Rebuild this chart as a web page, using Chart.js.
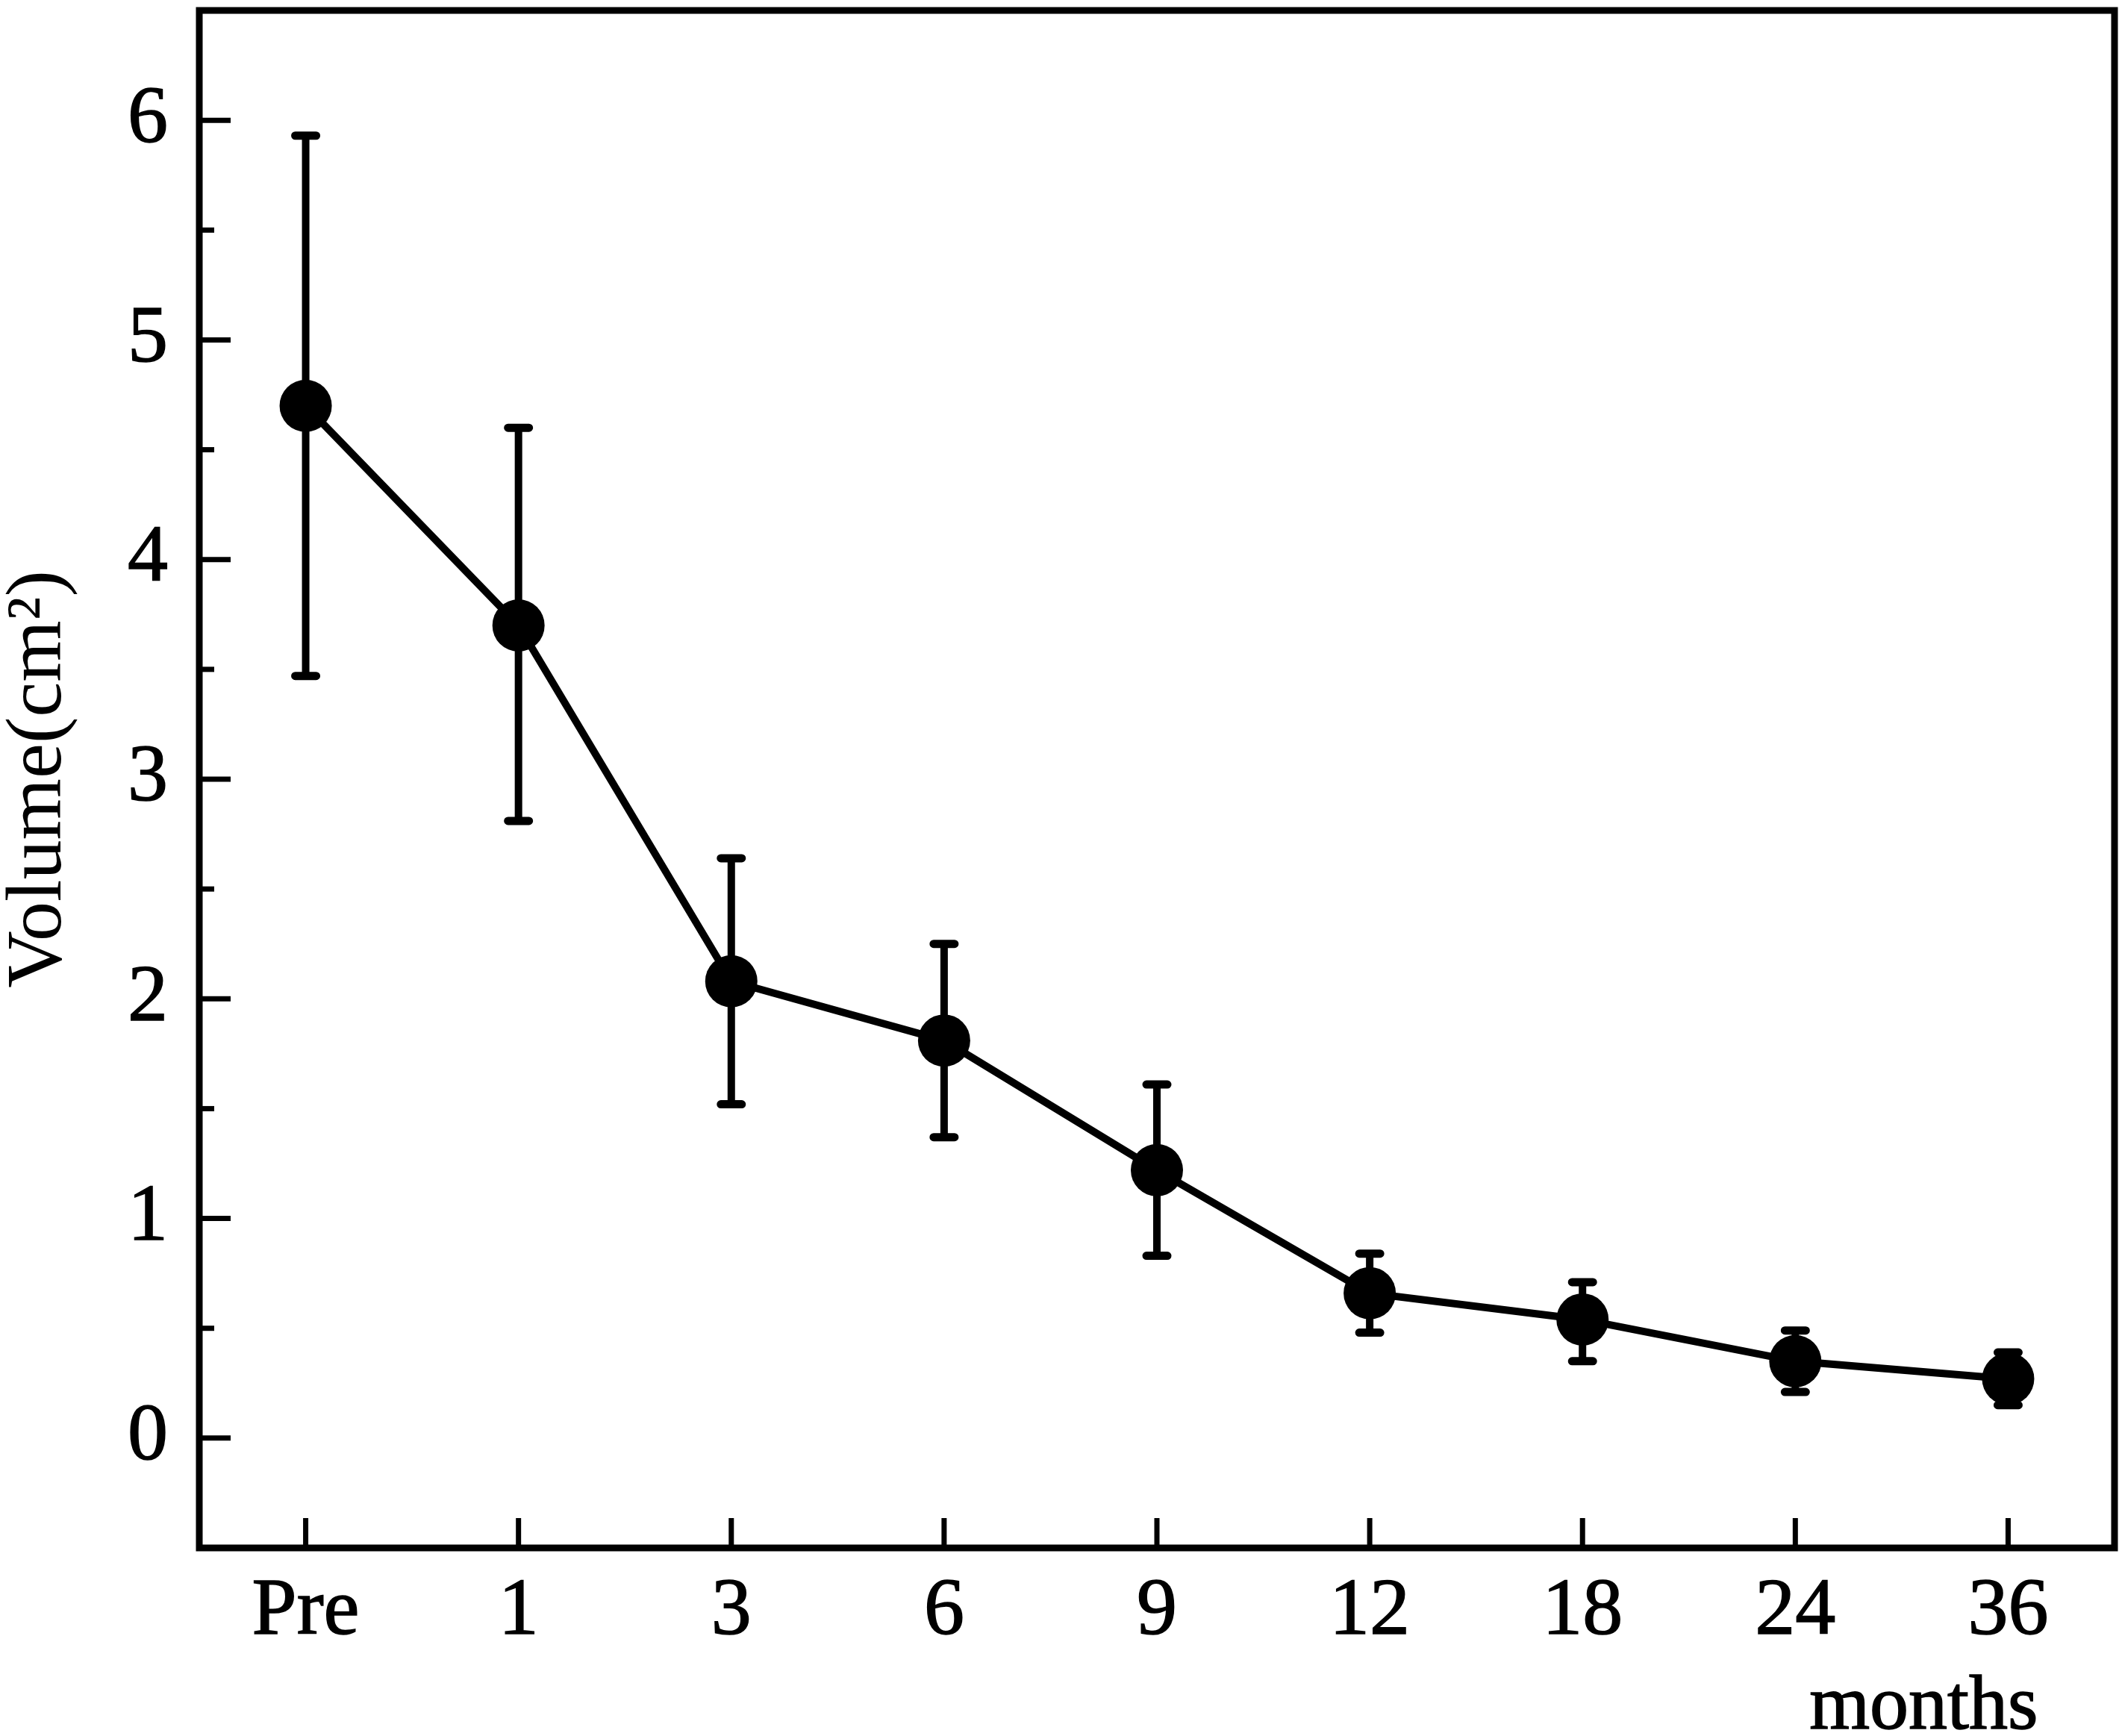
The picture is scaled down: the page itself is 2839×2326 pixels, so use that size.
<!DOCTYPE html>
<html>
<head>
<meta charset="utf-8">
<script src="https://cdn.jsdelivr.net/npm/chart.js@4.4.1/dist/chart.umd.min.js"></script>
<style>
  html, body { margin: 0; padding: 0; background: #fff; }
  #wrap { width: 2839px; height: 2326px; }
</style>
</head>
<body>
<div id="wrap"><canvas id="volChart" width="2839" height="2326"></canvas></div>
<script>
// 데이터
var monthLabels = ['Pre', '1', '3', '6', '9', '12', '18', '24', '36'];
var volMean  = [4.70, 3.70, 2.08, 1.81, 1.22, 0.66, 0.54, 0.35, 0.27];
var volUpper = [5.93, 4.60, 2.64, 2.25, 1.61, 0.84, 0.71, 0.49, 0.39];
var volLower = [3.47, 2.81, 1.52, 1.37, 0.83, 0.48, 0.35, 0.21, 0.15];
var yTickValues = [0, 1, 2, 3, 4, 5, 6];

var serif = "'Liberation Serif', 'Times New Roman', serif";
var INK = '#000';

/**
 * 에러바 (평균선 뒤에 그림)
 */
var errorBarPlugin = {
    id: 'errorBars',
    beforeDatasetsDraw: function(chart) {
        var ctx = chart.ctx;
        var xs = chart.scales.x, ys = chart.scales.y;
        ctx.save();
        ctx.strokeStyle = INK;
        for (var i = 0; i < volMean.length; i++) {
            var px = xs.getPixelForValue(i);
            var top = ys.getPixelForValue(volUpper[i]);
            var bot = ys.getPixelForValue(volLower[i]);
            ctx.lineWidth = 10;
            ctx.lineCap = 'butt';
            ctx.beginPath();
            ctx.moveTo(px, top);
            ctx.lineTo(px, bot);
            ctx.stroke();
            // cap
            ctx.lineWidth = 11;
            ctx.lineCap = 'round';
            ctx.beginPath();
            ctx.moveTo(px - 14, top); ctx.lineTo(px + 14, top);
            ctx.moveTo(px - 14, bot); ctx.lineTo(px + 14, bot);
            ctx.stroke();
        }
        ctx.restore();
    }
};

/**
 * 외곽 박스 + 안쪽 눈금 + months
 */
var frameTickPlugin = {
    id: 'frameTicks',
    afterDraw: function(chart) {
        var ctx = chart.ctx;
        var a = chart.chartArea;
        var xs = chart.scales.x, ys = chart.scales.y;
        ctx.save();
        ctx.strokeStyle = INK;
        ctx.fillStyle = INK;

        // y 눈금 (안쪽)
        ctx.lineWidth = 7;
        ys.ticks.forEach(function(t) {
            var v = t.value;
            if (v <= ys.min || v >= ys.max) return;
            var len = (Math.abs(v - Math.round(v)) < 1e-6) ? 42 : 20;
            var py = ys.getPixelForValue(v);
            ctx.beginPath();
            ctx.moveTo(a.left, py);
            ctx.lineTo(a.left + len, py);
            ctx.stroke();
        });

        // x 눈금 (안쪽)
        for (var i = 0; i < monthLabels.length; i++) {
            var px = xs.getPixelForValue(i);
            ctx.beginPath();
            ctx.moveTo(px, a.bottom);
            ctx.lineTo(px, a.bottom - 40);
            ctx.stroke();
        }

        // 박스
        ctx.lineWidth = 9;
        ctx.strokeRect(a.left, a.top, a.right - a.left, a.bottom - a.top);

        // months
        ctx.font = '104px ' + serif;
        ctx.textAlign = 'right';
        ctx.textBaseline = 'alphabetic';
        ctx.lineWidth = 1.5;
        ctx.fillText('months', xs.getPixelForValue(monthLabels.length - 1) + 40, 2316);
        ctx.strokeText('months', xs.getPixelForValue(monthLabels.length - 1) + 40, 2316);
        ctx.restore();
    }
};

window.addEventListener('DOMContentLoaded', function() {
    console.log('volume chart');
    var ctx = document.getElementById('volChart').getContext('2d');

    new Chart(ctx, {
        type: 'line',
        data: {
            labels: monthLabels,
            datasets: [{
                data: volMean,
                borderColor: INK,
                borderWidth: 10,
                backgroundColor: INK,
                pointRadius: 35,
                pointHoverRadius: 35,
                pointBackgroundColor: INK,
                pointBorderWidth: 0,
                tension: 0,
                clip: false
            }]
        },
        options: {
            responsive: false,
            animation: false,
            devicePixelRatio: 1,
            layout: { autoPadding: false, padding: { left: 0, top: 14, right: 6, bottom: 0 } },
            plugins: {
                legend: { display: false },
                tooltip: { enabled: false }
            },
            scales: {
                x: {
                    type: 'category',
                    offset: true,
                    grid: { display: false },
                    border: { display: false },
                    ticks: {
                        color: INK,
                        padding: 14,
                        maxRotation: 0,
                        autoSkip: false,
                        textStrokeColor: INK,
                        textStrokeWidth: 1.5,
                        font: { family: serif, size: 108 }
                    },
                    afterFit: function(scale) {
                        scale.height = 252;
                        scale.paddingLeft = 0;
                        scale.paddingRight = 0;
                    }
                },
                y: {
                    min: -0.5,
                    max: 6.5,
                    grid: { display: false },
                    border: { display: false },
                    ticks: {
                        stepSize: 0.5,
                        color: INK,
                        padding: 34,
                        textStrokeColor: INK,
                        textStrokeWidth: 1.5,
                        font: { family: serif, size: 108 },
                        callback: function(v) {
                            return yTickValues.indexOf(v) >= 0 ? String(v) : '';
                        }
                    },
                    title: {
                        display: true,
                        text: 'Volume(cm²)',
                        color: INK,
                        padding: 0,
                        font: { family: serif, size: 106, lineHeight: 1.0 }
                    },
                    afterFit: function(scale) {
                        scale.width = 267;
                        scale.paddingTop = 0;
                        scale.paddingBottom = 0;
                    }
                }
            }
        },
        plugins: [errorBarPlugin, frameTickPlugin]
    });
});
</script>
</body>
</html>
